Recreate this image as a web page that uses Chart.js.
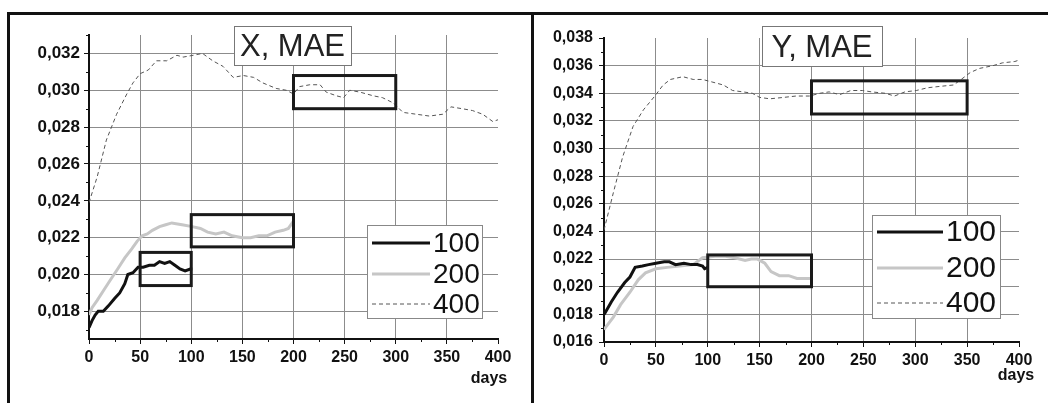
<!DOCTYPE html>
<html>
<head>
<meta charset="utf-8">
<script src="https://cdn.jsdelivr.net/npm/chart.js@4"></script>
<style>
  body { margin: 0; background: #fff; width: 1048px; height: 403px; overflow: hidden; position: relative; }
  canvas { position: absolute; top: 0; }
  #chartX { left: 0; }
  #chartY { left: 535px; }
  .frame { position: absolute; background: #111; }
</style>
</head>
<body>
<canvas id="chartX" width="530" height="403"></canvas>
<canvas id="chartY" width="513" height="403"></canvas>
<div class="frame" style="left:7px;top:12px;width:1041px;height:3px;"></div>
<div class="frame" style="left:7px;top:12px;width:3px;height:391px;"></div>
<div class="frame" style="left:531px;top:12px;width:3px;height:391px;"></div>
<script>
// ---- data ----
const dayTicks = [0, 50, 100, 150, 200, 250, 300, 350, 400];
const seriesNames = ["100", "200", "400"];

// X, MAE panel
const xTicksY = [0.018, 0.020, 0.022, 0.024, 0.026, 0.028, 0.030, 0.032];
const xDays100 = [0, 3, 6, 9, 14, 19, 25, 30, 35, 38, 43, 48, 53, 59, 64, 69, 74, 79, 84, 89, 94, 99, 101];
const xMae100 = [0.01712, 0.0175, 0.0178, 0.0180, 0.0180, 0.0183, 0.0187, 0.0190, 0.0195, 0.0200, 0.0201, 0.0204, 0.0204, 0.0205, 0.0205, 0.0207, 0.0206, 0.0207, 0.0205, 0.0203, 0.0202, 0.0203, 0.0203];
const xDays200 = [0, 3, 8, 15, 22, 28, 35, 42, 47, 52, 57, 62, 69, 75, 81, 91, 101, 109, 116, 124, 132, 140, 150, 158, 166, 174, 182, 190, 195, 200];
const xMae200 = [0.0178, 0.0182, 0.0186, 0.0192, 0.0198, 0.0203, 0.0209, 0.0214, 0.0218, 0.0221, 0.0222, 0.0224, 0.0226, 0.0227, 0.0228, 0.0227, 0.0226, 0.0225, 0.0223, 0.0222, 0.0223, 0.0221, 0.0220, 0.0220, 0.0221, 0.0221, 0.0223, 0.0224, 0.0225, 0.0229];
const xDays400 = [0, 8, 17, 27, 37, 43, 50, 58, 66, 76, 86, 92, 102, 111, 121, 131, 141, 151, 161, 170, 183, 193, 200, 206, 216, 226, 232, 242, 249, 255, 265, 278, 287, 298, 307, 320, 333, 346, 354, 365, 375, 385, 395, 400];
const xMae400 = [0.0239, 0.0253, 0.0273, 0.0287, 0.0298, 0.0304, 0.0309, 0.0311, 0.0316, 0.0316, 0.0319, 0.0318, 0.0319, 0.0320, 0.0316, 0.0313, 0.0307, 0.0308, 0.0307, 0.0304, 0.0301, 0.0300, 0.0298, 0.0302, 0.0303, 0.0303, 0.0299, 0.0297, 0.0296, 0.0300, 0.0299, 0.0297, 0.0296, 0.0293, 0.0288, 0.0287, 0.0286, 0.0287, 0.0291, 0.0290, 0.0289, 0.0287, 0.0283, 0.0284];
// highlighted windows: [dayFrom, dayTo, maeFrom, maeTo]
const xWindows = [[50, 100, 0.0194, 0.0212], [100, 200, 0.0215, 0.02325], [200, 300, 0.0290, 0.0308]];

// Y, MAE panel
const yTicksY = [0.016, 0.018, 0.020, 0.022, 0.024, 0.026, 0.028, 0.030, 0.032, 0.034, 0.036, 0.038];
const yDays100 = [0, 1, 7, 13, 20, 25, 30, 37, 43, 50, 58, 63, 69, 77, 84, 90, 95, 97, 100];
const yMae100 = [0.0180, 0.0181, 0.0189, 0.0196, 0.0203, 0.0207, 0.0214, 0.0215, 0.0216, 0.0217, 0.0218, 0.0218, 0.0216, 0.0217, 0.0216, 0.0216, 0.0215, 0.0213, 0.0214];
const yDays200 = [0, 1, 9, 16, 25, 33, 40, 50, 61, 73, 86, 95, 107, 117, 126, 136, 142, 148, 155, 161, 169, 178, 186, 195, 200];
const yMae200 = [0.0169, 0.0170, 0.0178, 0.0187, 0.0196, 0.0205, 0.0210, 0.0213, 0.0214, 0.0215, 0.0216, 0.0221, 0.0222, 0.0222, 0.0221, 0.0219, 0.0220, 0.0220, 0.0217, 0.0211, 0.0208, 0.0208, 0.0206, 0.0206, 0.0206];
const yDays400 = [0, 9, 18, 28, 38, 49, 57, 64, 76, 86, 95, 105, 115, 124, 134, 143, 150, 160, 173, 185, 198, 208, 217, 227, 238, 249, 258, 271, 280, 290, 301, 312, 324, 337, 346, 353, 362, 375, 384, 396, 400];
const yMae400 = [0.0241, 0.0268, 0.0294, 0.0316, 0.0328, 0.0338, 0.0346, 0.0350, 0.0352, 0.0350, 0.0350, 0.0348, 0.0346, 0.0342, 0.0341, 0.0340, 0.0337, 0.0336, 0.0337, 0.0338, 0.0338, 0.0340, 0.0341, 0.0339, 0.0342, 0.0342, 0.0341, 0.0340, 0.0338, 0.0341, 0.0342, 0.0344, 0.0345, 0.0346, 0.0351, 0.0355, 0.0358, 0.0360, 0.0362, 0.0363, 0.0364];
const yWindows = [[100, 200, 0.0200, 0.0223], [200, 350, 0.0325, 0.0349]];

// ---- drawing ----
const fontFamily = "Arial, 'Liberation Sans', sans-serif";
const lineStyles = [
  { color: "#111", width: 3, dash: [] },
  { color: "#c6c6c6", width: 3, dash: [] },
  { color: "#555", width: 1, dash: [4, 3] },
];

function toPoints(days, values) {
  return days.map((d, i) => ({ x: d, y: values[i] }));
}

function makeDataset(name, days, values, i) {
  let s = lineStyles[i];
  return {
    label: name,
    data: toPoints(days, values),
    borderColor: s.color,
    borderWidth: s.width,
    borderDash: s.dash,
    pointRadius: 0,
    tension: 0,
    fill: false,
  };
}

const overlayPlugin = {
  id: "overlay",
  afterDraw(chart, args, opts) {
    const ctx = chart.ctx;
    const xs = chart.scales.x;
    const ys = chart.scales.y;
    const area = chart.chartArea;
    ctx.save();

    // minor ticks
    ctx.strokeStyle = "#111";
    ctx.lineWidth = 1;
    ctx.beginPath();
    for (let d = 25; d < 400; d += 50) {
      let px = Math.round(xs.getPixelForValue(d)) + 0.5;
      ctx.moveTo(px, area.bottom);
      ctx.lineTo(px, area.bottom + 3);
    }
    let ticks = opts.yTicks;
    for (let i = 0; i < ticks.length; i++) {
      let v = ticks[i] + 0.001;
      if (v > ys.max) continue;
      let py = Math.round(ys.getPixelForValue(v)) + 0.5;
      ctx.moveTo(area.left, py);
      ctx.lineTo(area.left - 3, py);
    }
    if (ticks[0] - 0.001 > ys.min) {
      let py = Math.round(ys.getPixelForValue(ticks[0] - 0.001)) + 0.5;
      ctx.moveTo(area.left, py);
      ctx.lineTo(area.left - 3, py);
    }
    ctx.stroke();

    // highlighted windows
    ctx.strokeStyle = "#1a1a1a";
    ctx.lineWidth = 3;
    opts.windows.forEach((w) => {
      let x0 = xs.getPixelForValue(w[0]);
      let x1 = xs.getPixelForValue(w[1]);
      let y0 = ys.getPixelForValue(w[2]);
      let y1 = ys.getPixelForValue(w[3]);
      ctx.strokeRect(x0, y1, x1 - x0, y0 - y1);
    });

    // title box
    let t = opts.titleBox;
    ctx.fillStyle = "#fff";
    ctx.fillRect(t[0], t[1], t[2], t[3]);
    ctx.strokeStyle = "#777";
    ctx.lineWidth = 1;
    ctx.strokeRect(t[0] + 0.5, t[1] + 0.5, t[2], t[3]);
    ctx.fillStyle = "#222";
    ctx.font = "31px " + fontFamily;
    ctx.textAlign = "center";
    ctx.textBaseline = "middle";
    ctx.fillText(opts.title, t[0] + t[2] / 2, t[1] + t[3] / 2 + 2);

    // legend
    let l = opts.legendBox;
    ctx.fillStyle = "#fff";
    ctx.fillRect(l[0], l[1], l[2], l[3]);
    ctx.strokeStyle = "#888";
    ctx.strokeRect(l[0] + 0.5, l[1] + 0.5, l[2], l[3]);
    ctx.font = opts.legendFont + "px " + fontFamily;
    ctx.textAlign = "left";
    chart.data.datasets.forEach((ds, i) => {
      let y = opts.legendRows[i];
      ctx.strokeStyle = ds.borderColor;
      ctx.lineWidth = ds.borderWidth;
      ctx.setLineDash(ds.borderDash);
      ctx.beginPath();
      ctx.moveTo(opts.legendLine[0], y);
      ctx.lineTo(opts.legendLine[1], y);
      ctx.stroke();
      ctx.setLineDash([]);
      ctx.fillStyle = "#111";
      ctx.fillText(ds.label, opts.legendLine[1] + 3, y + 1);
    });

    // axis name
    ctx.font = "bold 16px " + fontFamily;
    ctx.textAlign = "center";
    ctx.fillStyle = "#111";
    ctx.fillText("days", opts.daysPos[0], opts.daysPos[1]);
    ctx.restore();
  },
};

function makeChart(canvas, cfg) {
  return new Chart(canvas, {
    type: "line",
    data: {
      datasets: [
        makeDataset(seriesNames[0], cfg.days100, cfg.mae100, 0),
        makeDataset(seriesNames[1], cfg.days200, cfg.mae200, 1),
        makeDataset(seriesNames[2], cfg.days400, cfg.mae400, 2),
      ],
    },
    options: {
      responsive: false,
      animation: false,
      devicePixelRatio: 1,
      layout: { padding: cfg.padding },
      plugins: {
        legend: { display: false },
        title: { display: false },
        tooltip: { enabled: false },
        overlay: cfg.overlay,
      },
      scales: {
        x: {
          type: "linear",
          min: 0,
          max: 400,
          afterBuildTicks: (scale) => {
            scale.ticks = dayTicks.map((v) => ({ value: v }));
          },
          afterFit: (scale) => {
            scale.height = cfg.xHeight;
          },
          ticks: {
            color: "#111",
            padding: 4,
            maxRotation: 0,
            font: { family: fontFamily, size: 16, weight: "bold" },
          },
          grid: {
            color: (c) => (c.tick && (c.tick.value === 0 || c.tick.value === 400) ? "rgba(0,0,0,0)" : "#8c8c8c"),
            tickColor: "#111",
            tickLength: 5,
            lineWidth: 1,
          },
          border: { color: "#111", width: 2 },
        },
        y: {
          type: "linear",
          min: cfg.yMin,
          max: cfg.yMax,
          afterBuildTicks: (scale) => {
            scale.ticks = cfg.yTicks.map((v) => ({ value: v }));
          },
          afterFit: (scale) => {
            scale.width = cfg.yWidth;
          },
          ticks: {
            color: "#111",
            padding: cfg.yPad,
            font: { family: fontFamily, size: cfg.yFont, weight: "bold" },
            callback: (v) => v.toFixed(3).replace(".", ","),
          },
          grid: {
            color: (c) => (c.tick && (c.tick.value === cfg.yMin || c.tick.value === cfg.yMax) ? "rgba(0,0,0,0)" : "#8c8c8c"),
            tickColor: "#111",
            tickLength: 5,
            lineWidth: 1,
          },
          border: { color: "#111", width: 2 },
        },
      },
    },
    plugins: [overlayPlugin],
  });
}

let chartX = makeChart(document.querySelector("#chartX"), {
  days100: xDays100, mae100: xMae100,
  days200: xDays200, mae200: xMae200,
  days400: xDays400, mae400: xMae400,
  yMin: 0.0165, yMax: 0.033, yTicks: xTicksY,
  padding: { top: 35, right: 32, left: 0, bottom: 0 },
  yWidth: 89, xHeight: 64, yFont: 17, yPad: 4,
  overlay: {
    yTicks: xTicksY,
    windows: xWindows,
    title: "X, MAE",
    titleBox: [234, 26, 117, 39],
    legendBox: [367, 225, 115, 93],
    legendFont: 28,
    legendRows: [243, 274, 304],
    legendLine: [372, 430],
    daysPos: [489, 379],
  },
});

let chartY = makeChart(document.querySelector("#chartY"), {
  days100: yDays100, mae100: yMae100,
  days200: yDays200, mae200: yMae200,
  days400: yDays400, mae400: yMae400,
  yMin: 0.016, yMax: 0.038, yTicks: yTicksY,
  padding: { top: 38, right: 29, left: 0, bottom: 0 },
  yWidth: 69, xHeight: 61, yFont: 16, yPad: 6,
  overlay: {
    yTicks: yTicksY,
    windows: yWindows,
    title: "Y, MAE",
    titleBox: [227, 26, 120, 40],
    legendBox: [337, 215, 128, 103],
    legendFont: 30,
    legendRows: [232, 268, 303],
    legendLine: [342, 408],
    daysPos: [481, 376],
  },
});
</script>
</body>
</html>
